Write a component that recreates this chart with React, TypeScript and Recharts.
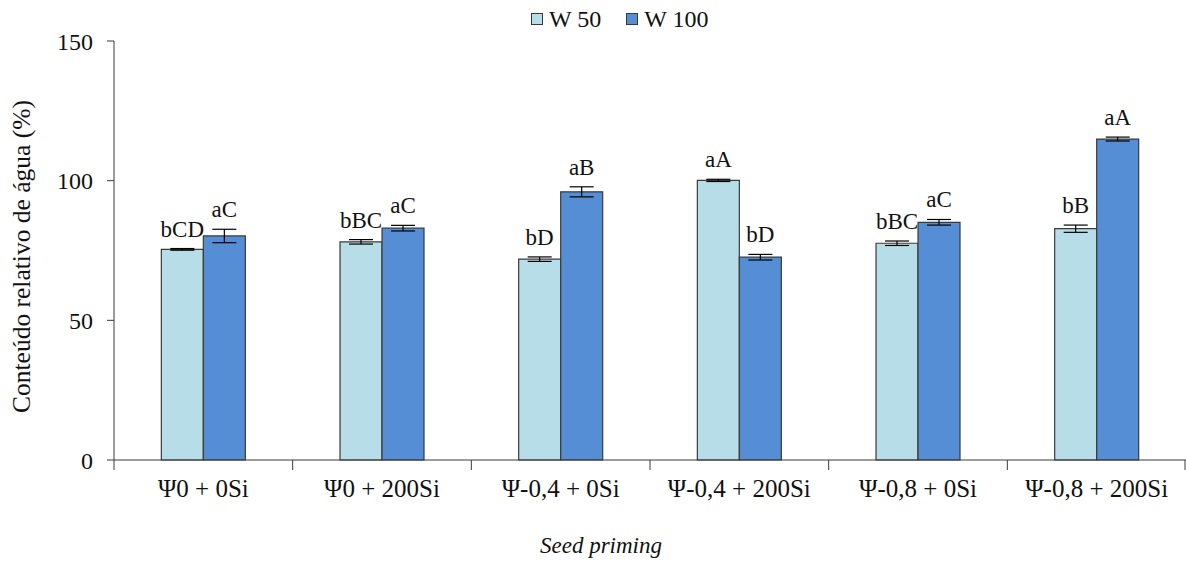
import React from "react";
import { BarChart, Bar, XAxis, YAxis, ErrorBar, LabelList, Legend } from "recharts";

const categories = ["Ψ0 + 0Si", "Ψ0 + 200Si", "Ψ-0,4 + 0Si", "Ψ-0,4 + 200Si", "Ψ-0,8 + 0Si", "Ψ-0,8 + 200Si"];
const w50 = [75.4, 78.1, 71.9, 100.1, 77.6, 82.8];
const w100 = [80.2, 83.0, 96.0, 72.6, 85.1, 114.9];
const w50Err = [0.3, 0.8, 0.8, 0.4, 0.8, 1.3];
const w100Err = [2.4, 1.0, 1.8, 1.0, 1.0, 0.7];
const w50Letters = ["bCD", "bBC", "bD", "aA", "bBC", "bB"];
const w100Letters = ["aC", "aC", "aB", "bD", "aC", "aA"];
const yTicks = [0, 50, 100, 150];

const W = 1186;
const H = 561;
const AXIS_W = 114;
const BAND = (W - AXIS_W) / categories.length;
const FONT = "Liberation Serif, Times New Roman, Times, serif";
const C50 = "#b7dde8";
const C100 = "#558ed5";
const EDGE = "#3a3a3a";

const data = categories.map((name, i) => ({
  name,
  w50: w50[i],
  w100: w100[i],
  w50Err: w50Err[i],
  w100Err: w100Err[i],
}));

const letterLabel = (letters: string[], errs: number[]) => (props: any) => {
  const { x, y, width, height, value, index } = props;
  const perUnit = Number(height) / Number(value);
  const top = Number(y) - errs[index] * perUnit;
  return (
    <text x={Number(x) + Number(width) / 2} y={top - 12} textAnchor="middle" fontSize={23} fill="#111" style={{ fontFamily: FONT }}>
      {letters[index]}
    </text>
  );
};

const CategoryTick = (props: any) => {
  const { x, y, payload, index } = props;
  return (
    <g>
      <line x1={x - BAND / 2} x2={x - BAND / 2} y1={y} y2={y + 10} stroke={EDGE} />
      {index === categories.length - 1 && (
        <line x1={x + BAND / 2 - 1} x2={x + BAND / 2 - 1} y1={y} y2={y + 10} stroke={EDGE} />
      )}
      <text x={x} y={y + 37} textAnchor="middle" fontSize={25} fill="#111" style={{ fontFamily: FONT }}>
        {payload.value}
      </text>
    </g>
  );
};

const LegendBox = () => (
  <div style={{ display: "flex", alignItems: "center", fontFamily: FONT, fontSize: 24, color: "#111", height: 30 }}>
    {[
      { label: "W 50", color: C50 },
      { label: "W 100", color: C100 },
    ].map((it) => (
      <div key={it.label} style={{ display: "flex", alignItems: "center", marginRight: 25 }}>
        <span style={{ width: 10, height: 10, background: it.color, border: `1px solid ${EDGE}`, marginRight: 6, display: "inline-block" }} />
        <span>{it.label}</span>
      </div>
    ))}
  </div>
);

export default function App() {
  return (
    <div style={{ position: "absolute", left: 0, top: 0, width: W, height: H, background: "#fff", fontFamily: FONT }}>
      <BarChart
        width={W}
        height={H}
        data={data}
        margin={{ top: 11, right: 0, left: 0, bottom: 0 }}
        barCategoryGap="26.5%"
        barGap={0}
        style={{ fontFamily: FONT }}
      >
        <Legend
          verticalAlign="top"
          height={30}
          content={<LegendBox />}
          wrapperStyle={{ top: 4, left: 531, width: "auto" }}
        />
        <YAxis
          width={AXIS_W}
          domain={[0, 150]}
          ticks={yTicks}
          interval={0}
          tickSize={7}
          tickMargin={14}
          axisLine={{ stroke: EDGE }}
          tickLine={{ stroke: EDGE }}
          tick={{ fontSize: 24, fill: "#111", style: { fontFamily: FONT } }}
          label={{
            content: (p: any) => {
              const vb = p.viewBox || { y: 41, height: 419 };
              const cy = vb.y + vb.height / 2 + 6;
              return (
                <text x={30} y={cy} transform={`rotate(-90, 30, ${cy})`} textAnchor="middle" fontSize={25.5} fill="#111" style={{ fontFamily: FONT }}>
                  Conteúdo relativo de água (%)
                </text>
              );
            },
          }}
        />
        <XAxis
          dataKey="name"
          height={101}
          interval={0}
          tickSize={0}
          tickMargin={0}
          tickLine={false}
          axisLine={{ stroke: EDGE }}
          tick={<CategoryTick />}
          label={{
            content: (p: any) => {
              const vb = p.viewBox || { x: 114, width: 1072 };
              return (
                <text x={vb.x + vb.width / 2 - 49} y={553} textAnchor="middle" fontSize={23} fontStyle="italic" fill="#111" style={{ fontFamily: FONT }}>
                  Seed priming
                </text>
              );
            },
          }}
        />
        <Bar dataKey="w50" name="W 50" fill={C50} stroke={EDGE} strokeWidth={1.2} isAnimationActive={false}>
          <ErrorBar dataKey="w50Err" width={12} stroke="#000" strokeWidth={1.2} isAnimationActive={false} />
          <LabelList dataKey="w50" content={letterLabel(w50Letters, w50Err)} />
        </Bar>
        <Bar dataKey="w100" name="W 100" fill={C100} stroke={EDGE} strokeWidth={1.2} isAnimationActive={false}>
          <ErrorBar dataKey="w100Err" width={12} stroke="#000" strokeWidth={1.2} isAnimationActive={false} />
          <LabelList dataKey="w100" content={letterLabel(w100Letters, w100Err)} />
        </Bar>
      </BarChart>
    </div>
  );
}
